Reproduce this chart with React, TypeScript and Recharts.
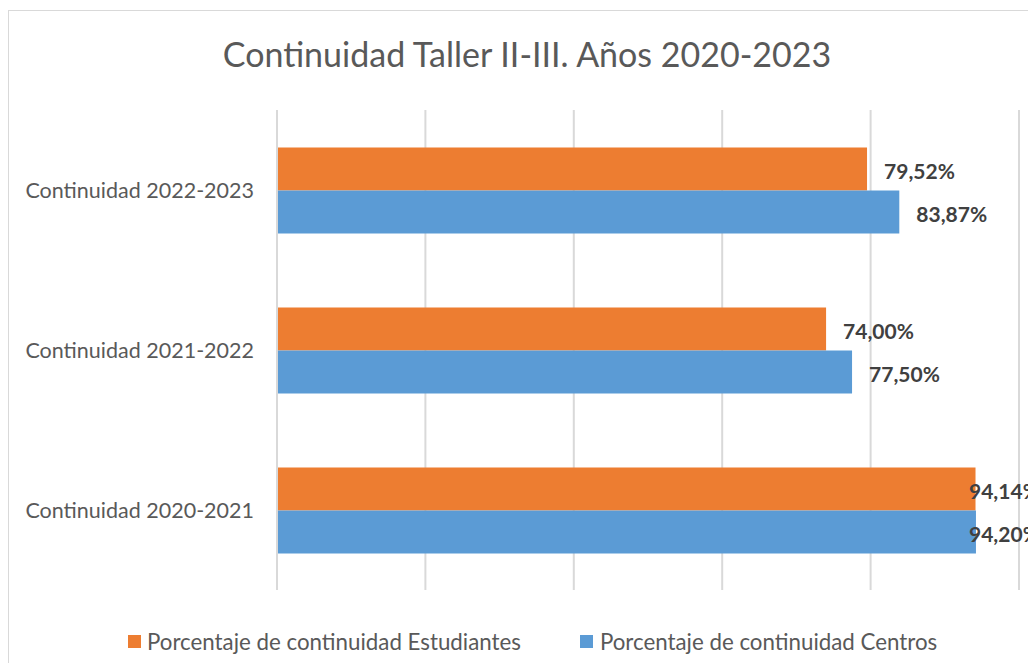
import React from "react";
import { BarChart, Bar, XAxis, YAxis, CartesianGrid, LabelList } from "recharts";

const categories = ["Continuidad 2022-2023", "Continuidad 2021-2022", "Continuidad 2020-2021"];
const estudiantes = [79.52, 74.0, 94.14];
const centros = [83.87, 77.5, 94.2];
const seriesNames = ["Porcentaje de continuidad Estudiantes", "Porcentaje de continuidad Centros"];
const xTicks = [0, 20, 40, 60, 80, 100];
const title = "Continuidad Taller II-III. Años 2020-2023";

const ORANGE = "#ED7D31";
const BLUE = "#5B9BD5";
const FONT = "Lato, 'Open Sans', sans-serif";

const data = categories.map((c, i) => ({ name: c, est: estudiantes[i], cen: centros[i] }));

const fmt = (v: number) => v.toFixed(2).replace(".", ",") + "%";

const renderLabel = (props: any) => {
  const { x, y, width, height, value } = props;
  const tx = Math.min(x + width + 17, 969);
  return (
    <text
      x={tx}
      y={y + height / 2 + 2}
      dominantBaseline="central"
      fill="#404040"
      fontWeight={700}
      fontSize={21}
      fontFamily={FONT}
    >
      {fmt(value)}
    </text>
  );
};

export default function App() {
  return (
    <div style={{ position: "relative", width: 1036, height: 671, margin: -8, overflow: "hidden", background: "#fff" }}>
      <div
        style={{
          position: "absolute",
          left: 8,
          top: 10,
          width: 1100,
          height: 700,
          border: "1.5px solid #d9d9d9",
        }}
      />
      <div
        style={{
          position: "absolute",
          left: 0,
          width: 1054,
          top: 34,
          textAlign: "center",
          fontFamily: FONT,
          fontSize: 34,
          color: "#595959",
          lineHeight: "40px",
          whiteSpace: "nowrap",
        }}
      >
        {title}
      </div>
      <div style={{ position: "absolute", left: 0, top: 0 }}>
        <BarChart
          width={1036}
          height={671}
          data={data}
          layout="vertical"
          margin={{ top: 110, right: 17, bottom: 81, left: 0 }}
          barCategoryGap="23.4%"
          barGap={0}
        >
          <CartesianGrid horizontal={false} stroke="#d9d9d9" strokeWidth={2} />
          <XAxis type="number" domain={[0, 100]} ticks={xTicks} hide />
          <YAxis
            type="category"
            dataKey="name"
            width={277}
            axisLine={{ stroke: "#d9d9d9", strokeWidth: 2 }}
            tickLine={false}
            tick={{ fill: "#595959", fontSize: 21.5, fontFamily: FONT }}
            tickMargin={17}
          />
          <Bar dataKey="est" fill={ORANGE} isAnimationActive={false}>
            <LabelList dataKey="est" content={renderLabel} />
          </Bar>
          <Bar dataKey="cen" fill={BLUE} isAnimationActive={false}>
            <LabelList dataKey="cen" content={renderLabel} />
          </Bar>
        </BarChart>
      </div>
      <div
        style={{
          position: "absolute",
          top: 628,
          left: 128,
          display: "flex",
          alignItems: "center",
          fontFamily: FONT,
          fontSize: 22.3,
          color: "#595959",
          whiteSpace: "nowrap",
        }}
      >
        <span style={{ display: "inline-block", width: 13, height: 13, background: ORANGE, marginRight: 6 }} />
        <span>{seriesNames[0]}</span>
        <span style={{ display: "inline-block", width: 13, height: 13, background: BLUE, marginLeft: 59, marginRight: 7 }} />
        <span>{seriesNames[1]}</span>
      </div>
    </div>
  );
}
